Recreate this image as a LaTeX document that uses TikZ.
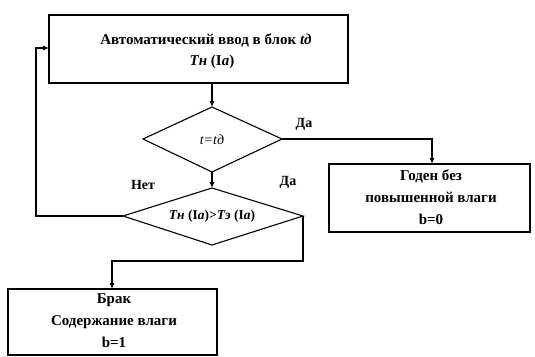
\documentclass[tikz,border=0pt]{standalone}
\usepackage{fontspec}
\setmainfont{Liberation Serif}
\usetikzlibrary{arrows.meta}
\begin{document}
\begin{tikzpicture}[x=1pt,y=-1pt,
  line width=1.1pt,
  box/.style={draw, line width=1.1pt},
  lbl/.style={font=\fontsize{14}{16}\selectfont\bfseries},
  txt/.style={align=center, font=\fontsize{15}{22}\selectfont\bfseries},
  arr/.style={-{Latex[length=6pt,width=5pt]}}]
\useasboundingbox (0,0) rectangle (535,356);
% top box
\draw[box] (49,15) rectangle (348,83);
\node[font=\fontsize{15}{17}\selectfont\bfseries] (topt) at (206,40) {Автоматический ввод в блок \textit{tд}};
\node[font=\fontsize{15}{17}\selectfont\bfseries] (topt2) at (212,62) {\textit{Tн} (I\textit{а})};
\coordinate (topb) at (212,83);
\coordinate (topl) at (49,48);
% diamond 1
\coordinate (d1t) at (212,107);
\coordinate (d1r) at (282,139);
\coordinate (d1b) at (212,172);
\coordinate (d1l) at (143,139);
\draw (d1t) -- (d1r) -- (d1b) -- (d1l) -- cycle;
\node[font=\fontsize{14}{16}\selectfont\itshape] (d1) at (212,140) {t=tд};
% diamond 2
\coordinate (d2t) at (212,188);
\coordinate (d2r) at (303,216);
\coordinate (d2b) at (212,245);
\coordinate (d2l) at (123,216);
\draw (d2t) -- (d2r) -- (d2b) -- (d2l) -- cycle;
\node[font=\fontsize{13.5}{15}\selectfont\bfseries] (d2) at (212,216) {\textit{Tн} (I\textit{а})>\textit{Tэ} (I\textit{а})};
% right box
\draw[box] (329,164) rectangle (530,232);
\coordinate (rbt) at (432,164);
\node[txt] (rb) at (431,197) {Годен без\\повышенной влаги\\b=0};
% bottom box
\draw[box] (8,289) rectangle (217,355);
\coordinate (bbt) at (112,289);
\node[txt] (bb) at (114,321) {Брак\\Содержание влаги\\b=1};
% connectors
\draw[arr] (topb) -- (d1t);
\draw[arr] (d1b) -- (d2t);
\draw[arr] (d1r) -- (432,139) -- (rbt);
\draw[arr] (d2r) -- (303,261) -- (112,261) -- (bbt);
\draw[arr] (d2l) -- (36,216) -- (36,48) -- (topl);
% labels
\node[lbl] (da1) at (304,124) {Да};
\node[lbl] (da2) at (288,182) {Да};
\node[lbl] (net) at (143,185) {Нет};
\end{tikzpicture}
\end{document}
